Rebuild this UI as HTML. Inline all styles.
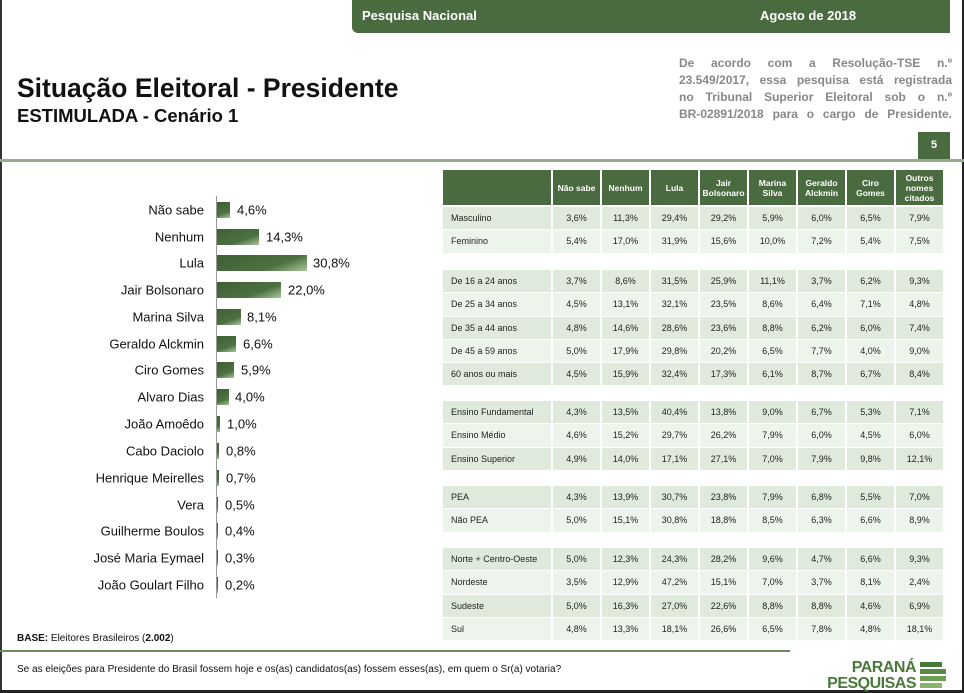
<!DOCTYPE html>
<html><head><meta charset="utf-8"><style>
*{margin:0;padding:0;box-sizing:border-box}
body{width:964px;height:693px;position:relative;background:#fff;font-family:"Liberation Sans",sans-serif;overflow:hidden}
.a{position:absolute}
.lbl{position:absolute;right:760px;font-size:13px;color:#111;white-space:nowrap;transform:translateY(-50%)}
.bar{position:absolute;left:217px;height:16px;background:linear-gradient(160deg,#3f5f35 0%,#4d7042 65%,#a9c79c 100%);transform:translateY(-50%)}
.val{position:absolute;font-size:13px;color:#111;transform:translateY(-50%)}
table{position:absolute;left:441px;border-collapse:separate;border-spacing:2px 0;font-size:9px;color:#222;table-layout:fixed}
td{height:23.3px;text-align:center;border-bottom:1px solid #fff}
td:first-child{text-align:left;padding-left:8px}
tr:nth-child(odd) td{background:#dfeadd}
tr:nth-child(even) td{background:#edf4ec}
col.c0{width:108px}col.c{width:47px}
.j{display:block;text-align:justify;text-align-last:justify;white-space:nowrap}
</style></head><body>
<div class="a" style="left:0;top:0;width:2px;height:693px;background:#333"></div>
<div class="a" style="right:0;top:0;width:2px;height:693px;background:#222"></div>
<div class="a" style="left:0;bottom:0;width:964px;height:3px;background:#222"></div>
<div class="a" style="left:352px;top:0;width:598px;height:33px;background:#4a6a3f;border-bottom-left-radius:6px"></div>
<div class="a" style="left:362px;top:8px;color:#fff;font-size:13px;font-weight:bold">Pesquisa Nacional</div>
<div class="a" style="left:760px;top:8px;color:#fff;font-size:13px;font-weight:bold">Agosto de 2018</div>
<div class="a" style="left:17px;top:73px;font-size:26.5px;font-weight:bold;color:#111">Situação Eleitoral - Presidente</div>
<div class="a" style="left:17px;top:105px;font-size:18.5px;font-weight:bold;color:#111">ESTIMULADA - Cenário 1</div>
<div class="a" style="left:679px;top:55px;width:273px;font-size:12px;font-weight:bold;color:#888;line-height:17px">
<span class="j">De acordo com a Resolução-TSE n.º</span>
<span class="j">23.549/2017, essa pesquisa está registrada</span>
<span class="j">no Tribunal Superior Eleitoral sob o n.º</span>
<span class="j">BR-02891/2018 para o cargo de Presidente.</span></div>
<div class="a" style="left:918px;top:132px;width:32px;height:27px;background:#4a6a3f;color:#fff;font-size:11px;font-weight:bold;text-align:center;line-height:27px">5</div>
<div class="a" style="left:0;top:159px;width:964px;height:3px;background:#9aaa8e"></div>
<div class="a" style="left:216px;top:196px;width:1px;height:402px;background:#999"></div>
<div class="lbl" style="top:210px">Não sabe</div><div class="bar" style="top:210px;width:13px"></div><div class="val" style="top:210px;left:237px">4,6%</div>
<div class="lbl" style="top:237px">Nenhum</div><div class="bar" style="top:237px;width:42px"></div><div class="val" style="top:237px;left:266px">14,3%</div>
<div class="lbl" style="top:263px">Lula</div><div class="bar" style="top:263px;width:90px"></div><div class="val" style="top:263px;left:313px">30,8%</div>
<div class="lbl" style="top:290px">Jair Bolsonaro</div><div class="bar" style="top:290px;width:64px"></div><div class="val" style="top:290px;left:288px">22,0%</div>
<div class="lbl" style="top:317px">Marina Silva</div><div class="bar" style="top:317px;width:24px"></div><div class="val" style="top:317px;left:247px">8,1%</div>
<div class="lbl" style="top:344px">Geraldo Alckmin</div><div class="bar" style="top:344px;width:19px"></div><div class="val" style="top:344px;left:243px">6,6%</div>
<div class="lbl" style="top:370px">Ciro Gomes</div><div class="bar" style="top:370px;width:17px"></div><div class="val" style="top:370px;left:241px">5,9%</div>
<div class="lbl" style="top:397px">Alvaro Dias</div><div class="bar" style="top:397px;width:12px"></div><div class="val" style="top:397px;left:235px">4,0%</div>
<div class="lbl" style="top:424px">João Amoêdo</div><div class="bar" style="top:424px;width:3px"></div><div class="val" style="top:424px;left:227px">1,0%</div>
<div class="lbl" style="top:451px">Cabo Daciolo</div><div class="bar" style="top:451px;width:2px"></div><div class="val" style="top:451px;left:226px">0,8%</div>
<div class="lbl" style="top:478px">Henrique Meirelles</div><div class="bar" style="top:478px;width:2px"></div><div class="val" style="top:478px;left:226px">0,7%</div>
<div class="lbl" style="top:505px">Vera</div><div class="bar" style="top:505px;width:1px"></div><div class="val" style="top:505px;left:225px">0,5%</div>
<div class="lbl" style="top:531px">Guilherme Boulos</div><div class="bar" style="top:531px;width:1px"></div><div class="val" style="top:531px;left:225px">0,4%</div>
<div class="lbl" style="top:558px">José Maria Eymael</div><div class="bar" style="top:558px;width:1px"></div><div class="val" style="top:558px;left:225px">0,3%</div>
<div class="lbl" style="top:585px">João Goulart Filho</div><div class="bar" style="top:585px;width:1px"></div><div class="val" style="top:585px;left:225px">0,2%</div>
<div class="a" style="left:17px;top:633px;font-size:10px;color:#111"><b>BASE:</b> Eleitores Brasileiros (<b>2.002</b>)</div>
<table style="top:170px"><colgroup><col class="c0"><col class="c"><col class="c"><col class="c"><col class="c"><col class="c"><col class="c"><col class="c"><col class="c"></colgroup>
<tr><td style="height:36px;background:#4a6a3f"></td><td style="height:36px;background:#4a6a3f;color:#fff;font-weight:bold;font-size:8.5px">Não sabe</td><td style="background:#4a6a3f;color:#fff;font-weight:bold;font-size:8.5px">Nenhum</td><td style="background:#4a6a3f;color:#fff;font-weight:bold;font-size:8.5px">Lula</td><td style="background:#4a6a3f;color:#fff;font-weight:bold;font-size:8.5px">Jair Bolsonaro</td><td style="background:#4a6a3f;color:#fff;font-weight:bold;font-size:8.5px">Marina Silva</td><td style="background:#4a6a3f;color:#fff;font-weight:bold;font-size:8.5px">Geraldo Alckmin</td><td style="background:#4a6a3f;color:#fff;font-weight:bold;font-size:8.5px">Ciro Gomes</td><td style="background:#4a6a3f;color:#fff;font-weight:bold;font-size:8.5px">Outros nomes citados</td></tr></table>
<table style="top:207px"><colgroup><col class="c0"><col class="c"><col class="c"><col class="c"><col class="c"><col class="c"><col class="c"><col class="c"><col class="c"></colgroup>
<tr><td>Masculino</td><td>3,6%</td><td>11,3%</td><td>29,4%</td><td>29,2%</td><td>5,9%</td><td>6,0%</td><td>6,5%</td><td>7,9%</td></tr>
<tr><td>Feminino</td><td>5,4%</td><td>17,0%</td><td>31,9%</td><td>15,6%</td><td>10,0%</td><td>7,2%</td><td>5,4%</td><td>7,5%</td></tr></table>
<table style="top:270px"><colgroup><col class="c0"><col class="c"><col class="c"><col class="c"><col class="c"><col class="c"><col class="c"><col class="c"><col class="c"></colgroup>
<tr><td>De 16 a 24 anos</td><td>3,7%</td><td>8,6%</td><td>31,5%</td><td>25,9%</td><td>11,1%</td><td>3,7%</td><td>6,2%</td><td>9,3%</td></tr>
<tr><td>De 25 a 34 anos</td><td>4,5%</td><td>13,1%</td><td>32,1%</td><td>23,5%</td><td>8,6%</td><td>6,4%</td><td>7,1%</td><td>4,8%</td></tr>
<tr><td>De 35 a 44 anos</td><td>4,8%</td><td>14,6%</td><td>28,6%</td><td>23,6%</td><td>8,8%</td><td>6,2%</td><td>6,0%</td><td>7,4%</td></tr>
<tr><td>De 45 a 59 anos</td><td>5,0%</td><td>17,9%</td><td>29,8%</td><td>20,2%</td><td>6,5%</td><td>7,7%</td><td>4,0%</td><td>9,0%</td></tr>
<tr><td>60 anos ou mais</td><td>4,5%</td><td>15,9%</td><td>32,4%</td><td>17,3%</td><td>6,1%</td><td>8,7%</td><td>6,7%</td><td>8,4%</td></tr></table>
<table style="top:401px"><colgroup><col class="c0"><col class="c"><col class="c"><col class="c"><col class="c"><col class="c"><col class="c"><col class="c"><col class="c"></colgroup>
<tr><td>Ensino Fundamental</td><td>4,3%</td><td>13,5%</td><td>40,4%</td><td>13,8%</td><td>9,0%</td><td>6,7%</td><td>5,3%</td><td>7,1%</td></tr>
<tr><td>Ensino Médio</td><td>4,6%</td><td>15,2%</td><td>29,7%</td><td>26,2%</td><td>7,9%</td><td>6,0%</td><td>4,5%</td><td>6,0%</td></tr>
<tr><td>Ensino Superior</td><td>4,9%</td><td>14,0%</td><td>17,1%</td><td>27,1%</td><td>7,0%</td><td>7,9%</td><td>9,8%</td><td>12,1%</td></tr></table>
<table style="top:486px"><colgroup><col class="c0"><col class="c"><col class="c"><col class="c"><col class="c"><col class="c"><col class="c"><col class="c"><col class="c"></colgroup>
<tr><td>PEA</td><td>4,3%</td><td>13,9%</td><td>30,7%</td><td>23,8%</td><td>7,9%</td><td>6,8%</td><td>5,5%</td><td>7,0%</td></tr>
<tr><td>Não PEA</td><td>5,0%</td><td>15,1%</td><td>30,8%</td><td>18,8%</td><td>8,5%</td><td>6,3%</td><td>6,6%</td><td>8,9%</td></tr></table>
<table style="top:548px"><colgroup><col class="c0"><col class="c"><col class="c"><col class="c"><col class="c"><col class="c"><col class="c"><col class="c"><col class="c"></colgroup>
<tr><td>Norte + Centro-Oeste</td><td>5,0%</td><td>12,3%</td><td>24,3%</td><td>28,2%</td><td>9,6%</td><td>4,7%</td><td>6,6%</td><td>9,3%</td></tr>
<tr><td>Nordeste</td><td>3,5%</td><td>12,9%</td><td>47,2%</td><td>15,1%</td><td>7,0%</td><td>3,7%</td><td>8,1%</td><td>2,4%</td></tr>
<tr><td>Sudeste</td><td>5,0%</td><td>16,3%</td><td>27,0%</td><td>22,6%</td><td>8,8%</td><td>8,8%</td><td>4,6%</td><td>6,9%</td></tr>
<tr><td>Sul</td><td>4,8%</td><td>13,3%</td><td>18,1%</td><td>26,6%</td><td>6,5%</td><td>7,8%</td><td>4,8%</td><td>18,1%</td></tr></table>
<div class="a" style="left:0;top:650px;width:790px;height:2px;background:#6e8a5f"></div>
<div class="a" style="left:17px;top:664px;font-size:10px;color:#111">Se as eleições para Presidente do Brasil fossem hoje e os(as) candidatos(as) fossem esses(as), em quem o Sr(a) votaria?</div>
<div class="a" style="left:826px;top:660px;font-size:16px;font-weight:bold;color:#4a7a3a;line-height:16px;text-align:right;width:90px;letter-spacing:-0.5px">PARANÁ<br>PESQUISAS</div>
<div class="a" style="left:920px;top:662px;width:22px;height:5px;background:#4a7a3a"></div>
<div class="a" style="left:920px;top:669px;width:26px;height:5px;background:#5a8a44"></div>
<div class="a" style="left:920px;top:676px;width:26px;height:5px;background:#6f9e55"></div>
<div class="a" style="left:920px;top:683px;width:22px;height:5px;background:#8ab56b"></div>
</body></html>
